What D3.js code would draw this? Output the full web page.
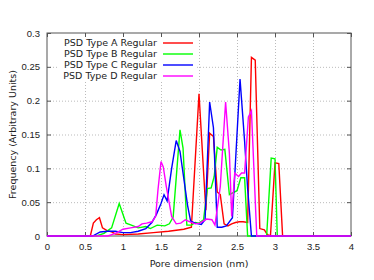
<!DOCTYPE html>
<html>
<head>
<meta charset="utf-8">
<script src="https://cdn.jsdelivr.net/npm/d3@7"></script>
<style>
  body { margin: 0; background: #fff; }
  svg { display: block; font-family: "DejaVu Sans", sans-serif; }
  .axis .domain { display: none; }
  .axis text { fill: #222; font-size: 9.5px; }
  .axis line { stroke: #555; }
  .grid line { stroke: #bbb; stroke-dasharray: 1,2; }
  .grid .domain { display: none; }
</style>
</head>
<body>
<svg id="chart" width="374" height="280"></svg>
<script>
// pore dimension (nm) and frequency per series
const xA = [0, 0.57, 0.61, 0.65, 0.69, 0.73, 0.79, 0.85, 0.9, 1.0, 1.2, 1.4, 1.6, 1.8, 1.9, 2.0, 2.09, 2.14, 2.19, 2.24, 2.28, 2.33, 2.38, 2.43, 2.48, 2.53, 2.58, 2.64, 2.69, 2.74, 2.8, 2.86, 2.9, 2.94, 3.0, 3.05, 3.1, 4.0];
const yA = [0, 0, 0.019, 0.024, 0.027, 0.012, 0.008, 0.006, 0.003, 0.002, 0.003, 0.005, 0.007, 0.01, 0.013, 0.21, 0.038, 0.152, 0.147, 0.065, 0.061, 0.018, 0.015, 0.018, 0.02, 0.021, 0.021, 0.02, 0.264, 0.26, 0.011, 0.009, 0.002, 0, 0.108, 0.107, 0, 0];

const xB = [0, 0.65, 0.75, 0.85, 0.95, 1.04, 1.11, 1.2, 1.3, 1.36, 1.45, 1.55, 1.61, 1.66, 1.71, 1.75, 1.79, 1.84, 1.9, 1.95, 2.0, 2.06, 2.11, 2.16, 2.2, 2.24, 2.29, 2.34, 2.4, 2.45, 2.5, 2.55, 2.6, 2.64, 2.89, 2.95, 3.0, 3.03, 4.0];
const yB = [0, 0, 0.004, 0.012, 0.048, 0.019, 0.016, 0.012, 0.014, 0.011, 0.016, 0.015, 0.018, 0.028, 0.1, 0.157, 0.13, 0.016, 0.016, 0.02, 0.019, 0.024, 0.07, 0.071, 0.088, 0.131, 0.127, 0.128, 0.061, 0.064, 0.067, 0.086, 0.086, 0, 0, 0.115, 0.114, 0, 0];

const xC = [0, 0.6, 0.7, 0.8, 0.9, 1.0, 1.1, 1.2, 1.3, 1.38, 1.44, 1.5, 1.54, 1.58, 1.64, 1.7, 1.75, 1.8, 1.85, 1.89, 1.95, 2.03, 2.08, 2.14, 2.19, 2.24, 2.3, 2.36, 2.44, 2.54, 2.6, 2.64, 2.69, 4.0];
const yC = [0, 0, 0.006, 0.007, 0.007, 0.005, 0.005, 0.007, 0.011, 0.02, 0.032, 0.048, 0.061, 0.052, 0.1, 0.141, 0.125, 0.085, 0.045, 0.022, 0.019, 0.017, 0.024, 0.198, 0.16, 0.013, 0.013, 0.015, 0.027, 0.232, 0.14, 0.07, 0, 0];

const xD = [0, 0.8, 0.9, 1.0, 1.1, 1.2, 1.25, 1.31, 1.38, 1.43, 1.46, 1.5, 1.53, 1.57, 1.64, 1.7, 1.76, 1.82, 1.88, 1.95, 2.01, 2.1, 2.17, 2.21, 2.28, 2.35, 2.4, 2.43, 2.47, 2.52, 2.56, 2.6, 2.65, 2.69, 2.76, 4.0];
const yD = [0, 0, 0.004, 0.01, 0.012, 0.014, 0.018, 0.019, 0.021, 0.029, 0.068, 0.11, 0.102, 0.073, 0.029, 0.018, 0.019, 0.024, 0.021, 0.018, 0.019, 0.025, 0.024, 0.016, 0.073, 0.198, 0.122, 0.029, 0.093, 0.088, 0.093, 0.093, 0.176, 0.185, 0, 0];

const seriesNames = ['PSD Type A Regular', 'PSD Type B Regular', 'PSD Type C Regular', 'PSD Type D Regular'];
const seriesColors = ['#ff0000', '#00ff00', '#0000ff', '#ff00ff'];
const xTicks = [0, 0.5, 1, 1.5, 2, 2.5, 3, 3.5, 4];
const yTicks = [0, 0.05, 0.1, 0.15, 0.2, 0.25, 0.3];

const MARGINS = { top: 33, bottom: 44, left: 47, right: 23 };

const svg = d3.select('#chart');
const width = +svg.attr('width') - MARGINS.left - MARGINS.right;
const height = +svg.attr('height') - MARGINS.top - MARGINS.bottom;

const series = [[xA, yA], [xB, yB], [xC, yC], [xD, yD]].map(([xs, ys], i) => ({
  name: seriesNames[i],
  color: seriesColors[i],
  points: xs.map((x, j) => [x, ys[j]])
}));

const scaleX = d3.scaleLinear().domain([0, 4]).range([0, width]);
const scaleY = d3.scaleLinear().domain([0, 0.3]).range([height, 0]);

const g = svg.append('g').attr('transform', `translate(${MARGINS.left}, ${MARGINS.top})`);

// dotted grid
g.append('g').attr('class', 'grid')
  .attr('transform', `translate(0, ${height})`)
  .call(d3.axisBottom(scaleX).tickValues(xTicks.slice(1, -1)).tickSize(-height).tickFormat(''));
g.append('g').attr('class', 'grid')
  .call(d3.axisLeft(scaleY).tickValues(yTicks.slice(1, -1)).tickSize(-width).tickFormat(''));

// axes, ticks pointing inwards like gnuplot
const fmt = d => d3.format('~g')(d);
g.append('g').attr('class', 'axis')
  .attr('transform', `translate(0, ${height})`)
  .call(d3.axisBottom(scaleX).tickValues(xTicks).tickSize(-4).tickPadding(7).tickFormat(fmt));
g.append('g').attr('class', 'axis')
  .call(d3.axisLeft(scaleY).tickValues(yTicks).tickSize(-4).tickPadding(7).tickFormat(fmt));
g.append('g').attr('class', 'axis')
  .attr('transform', `translate(${width}, 0)`)
  .call(d3.axisRight(scaleY).tickValues(yTicks).tickSize(-4).tickFormat(''));

// opaque key box (no border), covers the grid behind the labels
g.append('rect')
  .attr('x', 12).attr('y', 3)
  .attr('width', 138).attr('height', 45)
  .attr('fill', '#fff');

g.append('g').attr('class', 'axis')
  .call(d3.axisTop(scaleX).tickValues(xTicks).tickSize(-4).tickFormat(''));

g.append('rect')
  .attr('width', width).attr('height', height)
  .attr('fill', 'none').attr('stroke', '#555').attr('stroke-width', 1);

const line = d3.line().x(d => scaleX(d[0])).y(d => scaleY(d[1]));

g.append('g').attr('class', 'lines')
  .selectAll('path')
  .data(series)
  .join('path')
  .attr('d', d => line(d.points))
  .attr('fill', 'none')
  .attr('stroke', d => d.color)
  .attr('stroke-width', 1.4)
  .attr('stroke-linejoin', 'miter');

// legend
const legend = g.append('g').attr('class', 'legend')
  .selectAll('g')
  .data(series)
  .join('g')
  .attr('transform', (d, i) => `translate(0, ${10 + i * 11})`);
legend.append('text')
  .attr('x', 110)
  .attr('dy', '0.35em')
  .attr('text-anchor', 'end')
  .attr('font-size', 9.5)
  .attr('fill', '#222')
  .text(d => d.name);
legend.append('line')
  .attr('x1', 116).attr('x2', 146)
  .attr('stroke', d => d.color)
  .attr('stroke-width', 1.4);

// axis titles
svg.append('text')
  .attr('x', MARGINS.left + width / 2)
  .attr('y', 267)
  .attr('text-anchor', 'middle')
  .attr('font-size', 9.5)
  .attr('fill', '#222')
  .text('Pore dimension (nm)');
svg.append('text')
  .attr('transform', `translate(13, ${MARGINS.top + height / 2}) rotate(-90)`)
  .attr('text-anchor', 'middle')
  .attr('dy', '0.35em')
  .attr('font-size', 9.5)
  .attr('fill', '#222')
  .text('Frequency (Arbitrary Units)');
</script>
</body>
</html>
